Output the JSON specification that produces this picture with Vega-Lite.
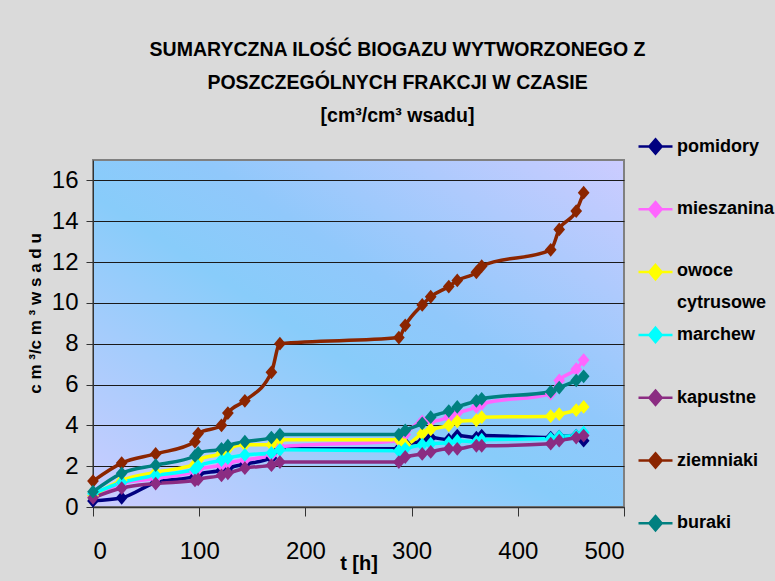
{
  "$schema": "https://vega.github.io/schema/vega-lite/v6.json",
  "width": 531,
  "height": 347,
  "autosize": {"type": "none"},
  "padding": {"left": 93, "top": 160, "right": 151, "bottom": 74},
  "background": "#dadada",
  "title": {
    "text": ["SUMARYCZNA ILOŚĆ BIOGAZU WYTWORZONEGO Z", "POSZCZEGÓLNYCH FRAKCJI W CZASIE", "[cm³/cm³ wsadu]"],
    "font": "Liberation Sans, Arial",
    "fontSize": 19.5,
    "fontWeight": "bold",
    "color": "#000000",
    "lineHeight": 33,
    "anchor": "middle",
    "dx": 39,
    "offset": 2
  },
  "data": {"values": [
    {"t": 0, "s": "pomidory", "v": 0.3}, {"t": 27, "s": "pomidory", "v": 0.45}, {"t": 59, "s": "pomidory", "v": 1.2}, {"t": 96, "s": "pomidory", "v": 1.5}, {"t": 99, "s": "pomidory", "v": 1.6}, {"t": 121, "s": "pomidory", "v": 1.8}, {"t": 127, "s": "pomidory", "v": 1.9}, {"t": 143, "s": "pomidory", "v": 2.1}, {"t": 168, "s": "pomidory", "v": 2.4}, {"t": 176, "s": "pomidory", "v": 2.85}, {"t": 288, "s": "pomidory", "v": 2.85}, {"t": 294, "s": "pomidory", "v": 3.1}, {"t": 310, "s": "pomidory", "v": 3.2}, {"t": 318, "s": "pomidory", "v": 3.4}, {"t": 335, "s": "pomidory", "v": 3.3}, {"t": 343, "s": "pomidory", "v": 3.5}, {"t": 361, "s": "pomidory", "v": 3.4}, {"t": 366, "s": "pomidory", "v": 3.5}, {"t": 431, "s": "pomidory", "v": 3.4}, {"t": 439, "s": "pomidory", "v": 3.45}, {"t": 455, "s": "pomidory", "v": 3.5}, {"t": 462, "s": "pomidory", "v": 3.25},
    {"t": 0, "s": "mieszanina", "v": 0.55}, {"t": 27, "s": "mieszanina", "v": 1.15}, {"t": 59, "s": "mieszanina", "v": 1.4}, {"t": 96, "s": "mieszanina", "v": 1.75}, {"t": 99, "s": "mieszanina", "v": 1.85}, {"t": 121, "s": "mieszanina", "v": 2.05}, {"t": 127, "s": "mieszanina", "v": 2.15}, {"t": 143, "s": "mieszanina", "v": 2.3}, {"t": 168, "s": "mieszanina", "v": 2.55}, {"t": 176, "s": "mieszanina", "v": 2.95}, {"t": 288, "s": "mieszanina", "v": 3.25}, {"t": 294, "s": "mieszanina", "v": 3.55}, {"t": 310, "s": "mieszanina", "v": 4.2}, {"t": 318, "s": "mieszanina", "v": 4.2}, {"t": 335, "s": "mieszanina", "v": 4.4}, {"t": 343, "s": "mieszanina", "v": 4.6}, {"t": 361, "s": "mieszanina", "v": 4.9}, {"t": 366, "s": "mieszanina", "v": 5.05}, {"t": 431, "s": "mieszanina", "v": 5.55}, {"t": 439, "s": "mieszanina", "v": 6.2}, {"t": 455, "s": "mieszanina", "v": 6.75}, {"t": 462, "s": "mieszanina", "v": 7.2},
    {"t": 0, "s": "owoce cytrusowe", "v": 0.55}, {"t": 27, "s": "owoce cytrusowe", "v": 1.3}, {"t": 59, "s": "owoce cytrusowe", "v": 1.7}, {"t": 96, "s": "owoce cytrusowe", "v": 2.1}, {"t": 99, "s": "owoce cytrusowe", "v": 2.3}, {"t": 121, "s": "owoce cytrusowe", "v": 2.65}, {"t": 127, "s": "owoce cytrusowe", "v": 2.85}, {"t": 143, "s": "owoce cytrusowe", "v": 3.05}, {"t": 168, "s": "owoce cytrusowe", "v": 3.05}, {"t": 176, "s": "owoce cytrusowe", "v": 3.3}, {"t": 288, "s": "owoce cytrusowe", "v": 3.3}, {"t": 294, "s": "owoce cytrusowe", "v": 3.05}, {"t": 310, "s": "owoce cytrusowe", "v": 3.6}, {"t": 318, "s": "owoce cytrusowe", "v": 3.8}, {"t": 335, "s": "owoce cytrusowe", "v": 4.0}, {"t": 343, "s": "owoce cytrusowe", "v": 4.2}, {"t": 361, "s": "owoce cytrusowe", "v": 4.25}, {"t": 366, "s": "owoce cytrusowe", "v": 4.4}, {"t": 431, "s": "owoce cytrusowe", "v": 4.45}, {"t": 439, "s": "owoce cytrusowe", "v": 4.55}, {"t": 455, "s": "owoce cytrusowe", "v": 4.75}, {"t": 462, "s": "owoce cytrusowe", "v": 4.9},
    {"t": 0, "s": "marchew", "v": 0.65}, {"t": 27, "s": "marchew", "v": 1.2}, {"t": 59, "s": "marchew", "v": 1.55}, {"t": 96, "s": "marchew", "v": 1.85}, {"t": 99, "s": "marchew", "v": 2.0}, {"t": 121, "s": "marchew", "v": 2.3}, {"t": 127, "s": "marchew", "v": 2.4}, {"t": 143, "s": "marchew", "v": 2.55}, {"t": 168, "s": "marchew", "v": 2.65}, {"t": 176, "s": "marchew", "v": 2.8}, {"t": 288, "s": "marchew", "v": 2.75}, {"t": 294, "s": "marchew", "v": 2.85}, {"t": 310, "s": "marchew", "v": 3.05}, {"t": 318, "s": "marchew", "v": 3.1}, {"t": 335, "s": "marchew", "v": 3.15}, {"t": 343, "s": "marchew", "v": 3.25}, {"t": 361, "s": "marchew", "v": 3.2}, {"t": 366, "s": "marchew", "v": 3.3}, {"t": 431, "s": "marchew", "v": 3.35}, {"t": 439, "s": "marchew", "v": 3.45}, {"t": 455, "s": "marchew", "v": 3.5}, {"t": 462, "s": "marchew", "v": 3.65},
    {"t": 0, "s": "kapustne", "v": 0.45}, {"t": 27, "s": "kapustne", "v": 0.93}, {"t": 59, "s": "kapustne", "v": 1.15}, {"t": 96, "s": "kapustne", "v": 1.3}, {"t": 99, "s": "kapustne", "v": 1.35}, {"t": 121, "s": "kapustne", "v": 1.55}, {"t": 127, "s": "kapustne", "v": 1.65}, {"t": 143, "s": "kapustne", "v": 1.9}, {"t": 168, "s": "kapustne", "v": 2.05}, {"t": 176, "s": "kapustne", "v": 2.2}, {"t": 288, "s": "kapustne", "v": 2.2}, {"t": 294, "s": "kapustne", "v": 2.45}, {"t": 310, "s": "kapustne", "v": 2.6}, {"t": 318, "s": "kapustne", "v": 2.7}, {"t": 335, "s": "kapustne", "v": 2.85}, {"t": 343, "s": "kapustne", "v": 2.85}, {"t": 361, "s": "kapustne", "v": 3.0}, {"t": 366, "s": "kapustne", "v": 3.0}, {"t": 431, "s": "kapustne", "v": 3.1}, {"t": 439, "s": "kapustne", "v": 3.25}, {"t": 455, "s": "kapustne", "v": 3.4}, {"t": 462, "s": "kapustne", "v": 3.5},
    {"t": 0, "s": "ziemniaki", "v": 1.27}, {"t": 27, "s": "ziemniaki", "v": 2.15}, {"t": 59, "s": "ziemniaki", "v": 2.6}, {"t": 96, "s": "ziemniaki", "v": 3.2}, {"t": 99, "s": "ziemniaki", "v": 3.6}, {"t": 121, "s": "ziemniaki", "v": 4.0}, {"t": 127, "s": "ziemniaki", "v": 4.6}, {"t": 143, "s": "ziemniaki", "v": 5.2}, {"t": 168, "s": "ziemniaki", "v": 6.6}, {"t": 176, "s": "ziemniaki", "v": 8.0}, {"t": 288, "s": "ziemniaki", "v": 8.3}, {"t": 294, "s": "ziemniaki", "v": 8.9}, {"t": 310, "s": "ziemniaki", "v": 9.9}, {"t": 318, "s": "ziemniaki", "v": 10.3}, {"t": 335, "s": "ziemniaki", "v": 10.8}, {"t": 343, "s": "ziemniaki", "v": 11.1}, {"t": 361, "s": "ziemniaki", "v": 11.5}, {"t": 366, "s": "ziemniaki", "v": 11.8}, {"t": 431, "s": "ziemniaki", "v": 12.6}, {"t": 439, "s": "ziemniaki", "v": 13.6}, {"t": 455, "s": "ziemniaki", "v": 14.5}, {"t": 462, "s": "ziemniaki", "v": 15.4},
    {"t": 0, "s": "buraki", "v": 0.75}, {"t": 27, "s": "buraki", "v": 1.65}, {"t": 59, "s": "buraki", "v": 2.05}, {"t": 96, "s": "buraki", "v": 2.5}, {"t": 99, "s": "buraki", "v": 2.65}, {"t": 121, "s": "buraki", "v": 2.85}, {"t": 127, "s": "buraki", "v": 3.0}, {"t": 143, "s": "buraki", "v": 3.2}, {"t": 168, "s": "buraki", "v": 3.4}, {"t": 176, "s": "buraki", "v": 3.55}, {"t": 288, "s": "buraki", "v": 3.55}, {"t": 294, "s": "buraki", "v": 3.75}, {"t": 310, "s": "buraki", "v": 4.1}, {"t": 318, "s": "buraki", "v": 4.4}, {"t": 335, "s": "buraki", "v": 4.7}, {"t": 343, "s": "buraki", "v": 4.9}, {"t": 361, "s": "buraki", "v": 5.2}, {"t": 366, "s": "buraki", "v": 5.3}, {"t": 431, "s": "buraki", "v": 5.65}, {"t": 439, "s": "buraki", "v": 5.85}, {"t": 455, "s": "buraki", "v": 6.2}, {"t": 462, "s": "buraki", "v": 6.4}
  ]},
  "encoding": {
    "x": {
      "field": "t", "type": "quantitative",
      "scale": {"domain": [0, 500], "nice": false, "zero": false},
      "axis": {
        "values": [0, 100, 200, 300, 400, 500],
        "title": "t [h]",
        "titleFont": "Liberation Sans, Arial",
        "titleFontSize": 20,
        "titleFontWeight": "bold",
        "titleColor": "#000000",
        "titlePadding": -10,
        "labelFont": "Liberation Sans, Arial",
        "labelFontSize": 24,
        "labelColor": "#000000",
        "labelPadding": 23,
        "tickSize": 9,
        "tickColor": "#333333",
        "domainColor": "#333333",
        "domainWidth": 1.5,
        "grid": false
      }
    },
    "y": {
      "field": "v", "type": "quantitative",
      "scale": {"domain": [0, 17], "nice": false},
      "axis": {
        "values": [0, 2, 4, 6, 8, 10, 12, 14, 16],
        "title": "c m ³/c m ³  w s a d u",
        "titleFont": "Liberation Sans, Arial",
        "titleFontSize": 17,
        "titleFontWeight": "bold",
        "titleColor": "#000000",
        "titleX": -58,
        "titleY": 153,
        "titleBaseline": "middle",
        "labelFont": "Liberation Sans, Arial",
        "labelFontSize": 24,
        "labelColor": "#000000",
        "labelPadding": 8,
        "tickSize": 7,
        "tickColor": "#333333",
        "domainColor": "#333333",
        "grid": true,
        "gridColor": "#1a1a1a",
        "gridWidth": 1
      }
    },
    "color": {
      "field": "s", "type": "nominal",
      "sort": ["pomidory", "mieszanina", "owoce cytrusowe", "marchew", "kapustne", "ziemniaki", "buraki"],
      "scale": {
        "domain": ["pomidory", "mieszanina", "owoce cytrusowe", "marchew", "kapustne", "ziemniaki", "buraki"],
        "range": ["#000080", "#ff66ff", "#ffff00", "#00ffff", "#8b2c82", "#8b2500", "#008080"]
      },
      "legend": {
        "orient": "none",
        "legendX": 544,
        "legendY": -32,
        "title": null,
        "symbolType": "M-1,0H1M0,-0.42L0.36,0L0,0.42L-0.36,0Z",
        "symbolSize": 1156,
        "symbolStrokeWidth": 2.5,
        "labelFont": "Liberation Sans, Arial",
        "labelFontSize": 18,
        "labelFontWeight": "bold",
        "labelColor": "#000000",
        "labelOffset": 3,
        "labelLimit": 200,
        "gridAlign": "all",
        "rowPadding": 4.8,
        "labelExpr": "datum.label == 'owoce cytrusowe' ? ['owoce', 'cytrusowe'] : datum.label",
        "encode": {
          "symbols": {"update": {
            "fill": {"scale": "color", "field": "value"},
            "stroke": {"scale": "color", "field": "value"},
            "opacity": {"value": 1}
          }},
          "labels": {"update": {
            "baseline": {"signal": "datum.label == 'owoce cytrusowe' ? 'top' : 'middle'"},
            "dy": {"signal": "datum.label == 'owoce cytrusowe' ? -10.5 : 0"},
            "lineHeight": {"value": 32}
          }}
        }
      }
    }
  },
  "layer": [
    {"mark": {"type": "line", "strokeWidth": 3.5, "interpolate": "monotone"}},
    {"mark": {"type": "point", "shape": "M0,-1L0.85,0L0,1L-0.85,0Z", "filled": true, "size": 190, "opacity": 1}}
  ],
  "config": {
    "view": {
      "stroke": "#808080",
      "strokeWidth": 2,
      "fill": {
        "gradient": "linear",
        "x1": 0, "y1": 1, "x2": 1, "y2": 0,
        "stops": [
          {"offset": 0, "color": "#ccccff"},
          {"offset": 0.45, "color": "#88ccfa"},
          {"offset": 0.6, "color": "#90c8fb"},
          {"offset": 1, "color": "#ccccff"}
        ]
      }
    }
  }
}
